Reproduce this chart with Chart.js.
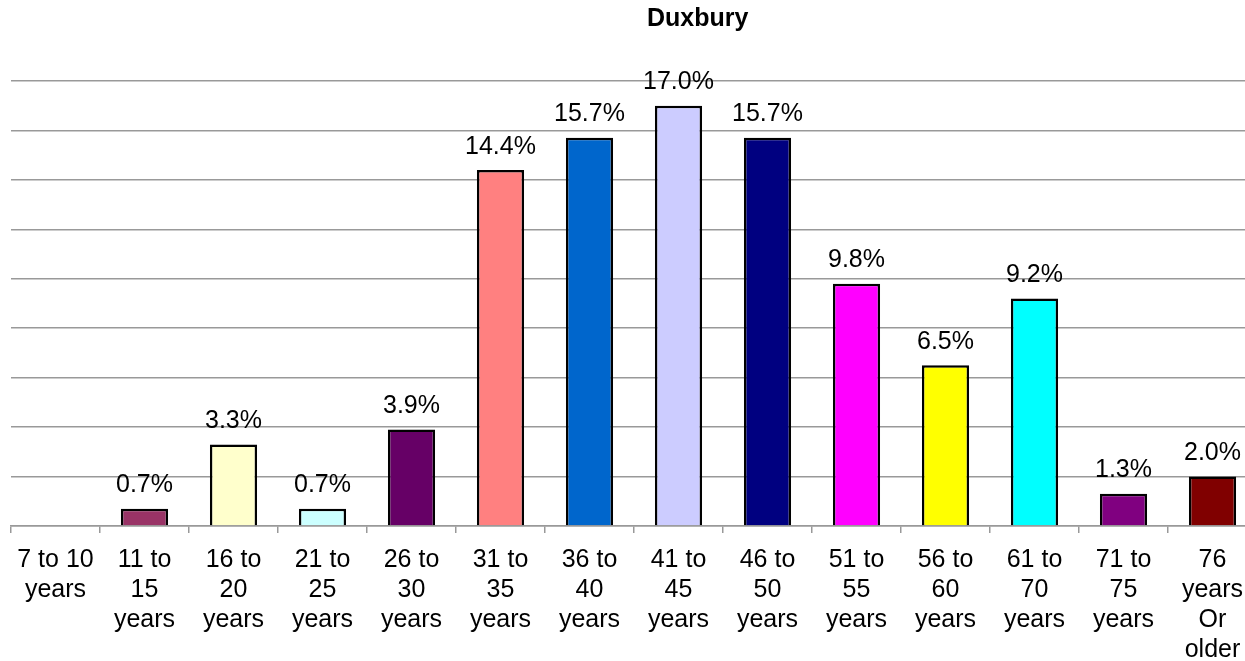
<!DOCTYPE html>
<html>
<head>
<meta charset="utf-8">
<script src="https://cdn.jsdelivr.net/npm/chart.js@4"></script>
<style>
  html, body { margin: 0; padding: 0; background: #fff; overflow: hidden; }
  #wrap { position: relative; width: 1245px; height: 661px; overflow: hidden; }
  #title { position: absolute; left: 647px; top: 3px; font: bold 25px "Liberation Sans", Arial, sans-serif; color: #000; white-space: nowrap; }
  canvas { position: absolute; left: 0; top: 0; }
</style>
</head>
<body>
<div id="wrap">
  <canvas id="c" width="1257" height="661"></canvas>
  <div id="title">Duxbury</div>
</div>
<script>
const categories = [
  ["7 to 10", "years"],
  ["11 to", "15", "years"],
  ["16 to", "20", "years"],
  ["21 to", "25", "years"],
  ["26 to", "30", "years"],
  ["31 to", "35", "years"],
  ["36 to", "40", "years"],
  ["41 to", "45", "years"],
  ["46 to", "50", "years"],
  ["51 to", "55", "years"],
  ["56 to", "60", "years"],
  ["61 to", "70", "years"],
  ["71 to", "75", "years"],
  ["76", "years", "Or", "older"]
];
const values = [0, 0.7, 3.3, 0.7, 3.9, 14.4, 15.7, 17.0, 15.7, 9.8, 6.5, 9.2, 1.3, 2.0];
const barColors = ["#9999FF", "#993366", "#FFFFCC", "#CCFFFF", "#660066", "#FF8080", "#0066CC",
                   "#CCCCFF", "#000080", "#FF00FF", "#FFFF00", "#00FFFF", "#800080", "#800000"];
const yTicks = { min: 0, max: 18, step: 2 };

const FONT = '"Liberation Sans", Arial, sans-serif';

const labelPlugin = {
  id: 'valueLabels',
  afterDatasetsDraw(chart) {
    const ctx = chart.ctx;
    const meta = chart.getDatasetMeta(0);
    ctx.save();
    ctx.font = '25px ' + FONT;
    ctx.fillStyle = '#000';
    ctx.textAlign = 'center';
    ctx.textBaseline = 'alphabetic';
    meta.data.forEach((bar, i) => {
      const v = values[i];
      if (v > 0) ctx.fillText(v.toFixed(1) + '%', bar.x, bar.y - 16.5);
    });
    ctx.restore();
  }
};

new Chart(document.getElementById('c'), {
  type: 'bar',
  data: {
    labels: categories,
    datasets: [{
      data: values,
      backgroundColor: barColors,
      borderColor: '#000',
      borderWidth: 2.5,
      barPercentage: 0.53,
      categoryPercentage: 1.0
    }]
  },
  options: {
    responsive: false,
    animation: false,
    layout: { padding: { top: 81, left: 0, right: 0, bottom: 0 } },
    plugins: { legend: { display: false }, title: { display: false }, tooltip: { enabled: false } },
    scales: {
      x: {
        grid: { offset: true, drawOnChartArea: false, tickLength: 7, color: '#999', lineWidth: 1.5 },
        border: { color: '#999', width: 1.5 },
        ticks: {
          color: '#000',
          font: { family: FONT, size: 25, lineHeight: 1.2 },
          maxRotation: 0, minRotation: 0, autoSkip: false, padding: 12
        },
        afterFit(scale) { scale.height = 135; }
      },
      y: {
        min: yTicks.min, max: yTicks.max,
        ticks: { display: false, stepSize: yTicks.step },
        grid: { color: '#999', lineWidth: 1.5, drawTicks: false },
        border: { display: false },
        afterFit(scale) { scale.width = 11; }
      }
    }
  },
  plugins: [labelPlugin]
});
</script>
</body>
</html>
